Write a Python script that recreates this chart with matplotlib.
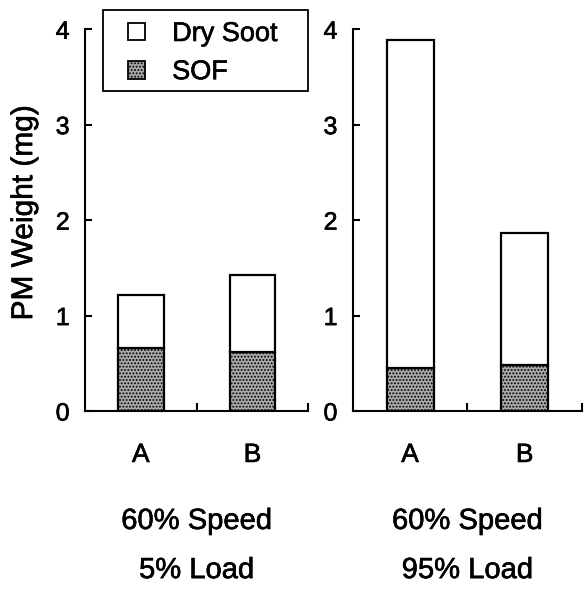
import matplotlib
matplotlib.use("Agg")
import matplotlib.pyplot as plt
import matplotlib.patheffects as pe
from matplotlib.patches import Patch, Rectangle
import numpy as np

plt.rcParams['font.family'] = ['Liberation Sans', 'DejaVu Sans']
plt.rcParams['hatch.linewidth'] = 0.9

categories = ['A', 'B']
# panel 1: 60% speed / 5% load, panel 2: 60% speed / 95% load
sof = [[0.66, 0.62], [0.45, 0.48]]
total = [[1.22, 1.42], [3.89, 1.86]]
conditions = [('60% Speed', '5% Load'), ('60% Speed', '95% Load')]

# scanned look: slightly heavier strokes on the text
thick = [pe.withStroke(linewidth=0.45, foreground='black')]

fig = plt.figure(figsize=(5.86, 5.92), dpi=100)
axes = [fig.add_axes([0.145, 0.3057, 0.381, 0.645]),
        fig.add_axes([0.602, 0.3057, 0.391, 0.645])]

x = np.arange(len(categories)) + 0.5
for i, ax in enumerate(axes):
    s = np.array(sof[i])
    dry = np.array(total[i]) - s
    ax.bar(x, s, width=0.41, facecolor='#aaaaaa', edgecolor='black',
           hatch='.....', linewidth=1.6)
    ax.bar(x, dry, bottom=s, width=0.41, facecolor='white',
           edgecolor='black', linewidth=1.6)
    ax.set_xlim(0, 2)
    ax.set_ylim(0, 4)
    ax.spines['top'].set_visible(False)
    ax.spines['right'].set_visible(False)
    for sp in ['left', 'bottom']:
        ax.spines[sp].set_linewidth(1.5)
    ax.set_yticks([0, 1, 2, 3, 4])
    ax.tick_params(axis='y', direction='in', length=5, width=1.5,
                   labelsize=18, pad=11)
    ax.set_xticks([1, 2])
    ax.set_xticklabels([])
    ax.set_xticks(x, minor=True)
    ax.set_xticklabels(categories, minor=True)
    ax.tick_params(axis='x', which='major', direction='in', length=6, width=1.5)
    ax.tick_params(axis='x', which='minor', length=0, labelsize=19, pad=23)
    for lab in ax.get_yticklabels() + ax.get_xticklabels(minor=True):
        lab.set_path_effects(thick)
    pos = ax.get_position()
    cx = pos.x0 + pos.width * 0.5
    fig.text(cx, 0.12, conditions[i][0], fontsize=21, ha='center', va='center',
             path_effects=thick)
    fig.text(cx, 0.037, conditions[i][1], fontsize=21, ha='center', va='center',
             path_effects=thick)

axes[0].set_ylabel('PM Weight (mg)', fontsize=21.5, path_effects=thick)
axes[0].yaxis.set_label_coords(-0.21, 0.52)

handles = [Patch(facecolor='white', edgecolor='black', linewidth=1.3, label='Dry Soot'),
           Patch(facecolor='#aaaaaa', edgecolor='black', hatch='.....', linewidth=1.3, label='SOF')]
leg = fig.legend(handles=handles, loc='upper left',
                 bbox_to_anchor=(128 / 586, 1 - 21 / 592),
                 fontsize=19.5, frameon=False,
                 handlelength=0.63, handleheight=0.63, handletextpad=1.0,
                 borderpad=0, labelspacing=0.45, borderaxespad=0)
for t in leg.get_texts():
    t.set_path_effects(thick)
fig.add_artist(Rectangle((103 / 586, 1 - 91 / 592), 205 / 586, 81 / 592,
                         transform=fig.transFigure, fill=False,
                         edgecolor='black', linewidth=1.3))

fig.savefig('out.png', dpi=100)
